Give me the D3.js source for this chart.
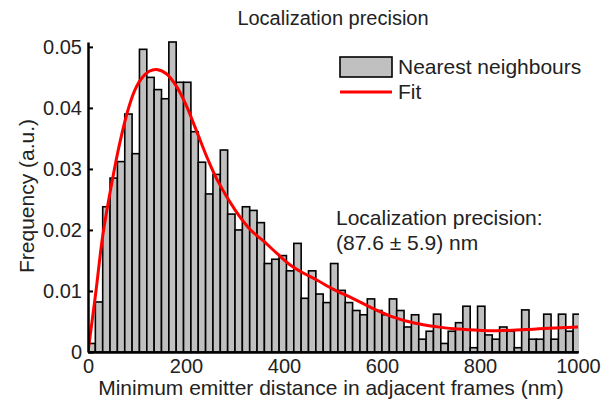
<!DOCTYPE html>
<html>
<head>
<meta charset="utf-8">
<script src="https://cdn.jsdelivr.net/npm/d3@7"></script>
<style>
  body { margin: 0; background: #fff; }
  text { font-family: "Liberation Sans", Arial, sans-serif; fill: #222; }
</style>
</head>
<body>
<div class="chart"></div>
<script>

// Histogram: bin width in nm, one value per bin
var binWidth = 15;
var freqs = [
    0.0014, 0.0082, 0.0238, 0.0285, 0.0312, 0.0390, 0.0325, 0.0496, 0.0450, 0.0430,
    0.0415, 0.0508, 0.0442, 0.0442, 0.0361, 0.0311, 0.0259, 0.0291, 0.0331, 0.0226,
    0.0200, 0.0238, 0.0232, 0.0212, 0.0145, 0.0152, 0.0158, 0.0133, 0.0178, 0.0088,
    0.0133, 0.0095, 0.0081, 0.0145, 0.0101, 0.0081, 0.0068, 0.0061, 0.0087, 0.0068,
    0.0061, 0.0087, 0.0068, 0.0041, 0.0061, 0.0021, 0.0034, 0.0062, 0.0014, 0.0034,
    0.0048, 0.0075, 0.0007, 0.0075, 0.0028, 0.0021, 0.0041, 0.0034, 0.0007, 0.0069,
    0.0021, 0.0021, 0.0062, 0.0021, 0.0062, 0.0034, 0.0062
];

// Fit curve, points
var fitX = [0, 16, 30, 50, 65, 81, 95, 110, 125, 140, 160, 180, 200, 225, 245, 265, 300, 333,
            358, 385, 412, 440, 467, 500, 540, 580, 620, 668, 706, 747, 790, 835, 900, 940, 1000];
var fitY = [0, 0.0098, 0.0190, 0.0283, 0.0343, 0.0395, 0.0428, 0.0449, 0.0460, 0.0463,
            0.0456, 0.0436, 0.0405, 0.0355, 0.0315, 0.0280, 0.0233, 0.0199, 0.0182, 0.0162,
            0.0143, 0.0129, 0.0118, 0.0103, 0.0088, 0.0072, 0.0058, 0.0047, 0.0042, 0.0038,
            0.0036, 0.0035, 0.0037, 0.0039, 0.0041];

var xTicks = [0, 200, 400, 600, 800, 1000];
var yTicks = [0, 0.01, 0.02, 0.03, 0.04, 0.05];

var width = 604, height = 407;
var margin = {left: 88, right: 26, top: 42, bottom: 55};

var svg = d3.select(".chart")
    .append("svg")
        .attr("width", width)
        .attr("height", height);

var x = d3.scaleLinear()
    .domain([0, 1000])
    .range([margin.left, width - margin.right]);

var y = d3.scaleLinear()
    .domain([0, 0.0508])
    .range([height - margin.bottom, margin.top]);

// Clip so the last bin stops at the axis end
svg.append("defs").append("clipPath")
    .attr("id", "plotclip")
    .append("rect")
        .attr("x", x(0))
        .attr("y", 0)
        .attr("width", x(1000) - x(0) + 1)
        .attr("height", height);

var plot = svg.append("g").attr("clip-path", "url(#plotclip)");

// Bars
plot.selectAll("rect.bar")
    .data(freqs)
    .enter()
    .append("rect")
    .attr("class", "bar")
    .attr("x", function(d, i) { return x(i * binWidth); })
    .attr("width", function(d, i) { return x((i + 1) * binWidth) - x(i * binWidth); })
    .attr("y", function(d) { return y(d); })
    .attr("height", function(d) { return y(0) - y(d); })
    .style("fill", "#c0c0c0")
    .style("stroke", "#000")
    .style("stroke-width", 1.6);

// Fit line
var line = d3.line()
    .x(function(d) { return x(d[0]); })
    .y(function(d) { return y(d[1]); })
    .curve(d3.curveCatmullRom.alpha(0.5));

plot.append("path")
    .datum(d3.zip(fitX, fitY))
    .attr("d", line)
    .style("fill", "none")
    .style("stroke", "#f00")
    .style("stroke-width", 3);

// Axes
var xAxis = d3.axisBottom(x).tickValues(xTicks).tickSize(0).tickPadding(7)
    .tickFormat(d3.format("d"));
var yAxis = d3.axisLeft(y).tickValues(yTicks).tickSizeInner(-5).tickSizeOuter(0).tickPadding(6)
    .tickFormat(function(d) { return d === 0 ? "0" : d3.format(".2f")(d); });

var gx = svg.append("g")
    .attr("transform", "translate(0," + y(0) + ")")
    .call(xAxis);
gx.select(".domain").attr("stroke", "#000").attr("stroke-width", 2.5);

var gy = svg.append("g")
    .attr("transform", "translate(" + x(0) + ",0)")
    .call(yAxis);
gy.select(".domain").attr("stroke", "#000").attr("stroke-width", 2.5);
gy.selectAll(".tick line").attr("stroke", "#000").attr("stroke-width", 2);

svg.selectAll(".tick text")
    .style("font-size", "20px")
    .style("font-family", "Liberation Sans, Arial, sans-serif")
    .attr("fill", "#222");

// Axis labels and title
svg.append("text")
    .attr("x", (x(0) + x(1000)) / 2 - 2)
    .attr("y", 395)
    .attr("text-anchor", "middle")
    .style("font-size", "21px")
    .text("Minimum emitter distance in adjacent frames (nm)");

svg.append("text")
    .attr("transform", "translate(34,196) rotate(-90)")
    .attr("text-anchor", "middle")
    .style("font-size", "21px")
    .text("Frequency (a.u.)");

svg.append("text")
    .attr("x", 333)
    .attr("y", 25)
    .attr("text-anchor", "middle")
    .style("font-size", "20px")
    .text("Localization precision");

// Annotation
svg.append("text")
    .attr("x", 336)
    .attr("y", 225)
    .style("font-size", "21px")
    .text("Localization precision:");

svg.append("text")
    .attr("x", 336)
    .attr("y", 250)
    .style("font-size", "21px")
    .text("(87.6 \u00b1 5.9) nm");

// Legend
var legend = svg.append("g").attr("transform", "translate(340,57)");

legend.append("rect")
    .attr("width", 52)
    .attr("height", 20)
    .style("fill", "#c0c0c0")
    .style("stroke", "#000")
    .style("stroke-width", 1.6);

legend.append("text")
    .attr("x", 58)
    .attr("y", 17)
    .style("font-size", "21px")
    .text("Nearest neighbours");

legend.append("line")
    .attr("x1", 0).attr("x2", 52)
    .attr("y1", 35).attr("y2", 35)
    .style("stroke", "#f00")
    .style("stroke-width", 3);

legend.append("text")
    .attr("x", 58)
    .attr("y", 42)
    .style("font-size", "21px")
    .text("Fit");

</script>
</body>
</html>
